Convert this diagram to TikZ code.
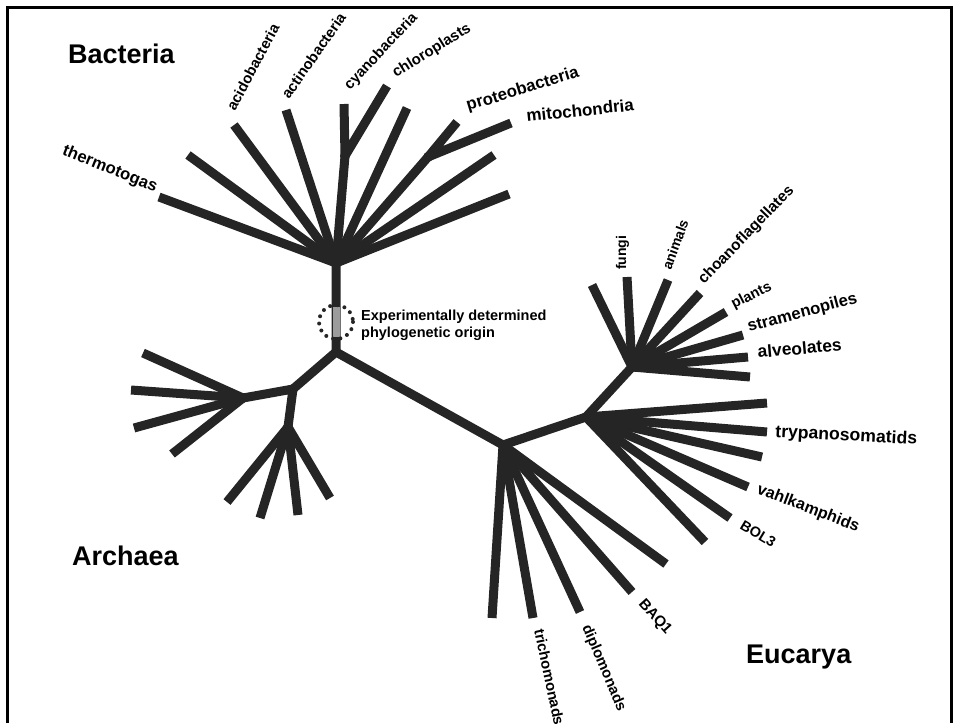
\documentclass[tikz,border=0pt]{standalone}
\usepackage{fontspec}
\setmainfont{Liberation Sans}
\usepackage{tikz}

\definecolor{treegray}{HTML}{252525}
\definecolor{origingray}{HTML}{9C9C9C}

\begin{document}
\begin{tikzpicture}[x=1pt, y=-1pt,
	branch/.style = {draw=treegray, line width=9pt, line cap=butt},
	hubdot/.style = {fill=treegray},
	leaf/.style = {font=\fontsize{#1}{#1}\selectfont\bfseries, inner sep=0pt, anchor=base west},
	leaf/.default = 17,
	domainlabel/.style = {font=\fontsize{27}{27}\selectfont\bfseries, inner sep=0pt, anchor=base west}]
	\useasboundingbox (0,0) rectangle (955,723);
	% outline
	\draw[line width=3pt] (7,723) -- (7,7) -- (951,7) -- (951,723);

	% hubs
	\coordinate (root) at (336,352);
	\coordinate (bac) at (336,263);
	\coordinate (arc) at (293,389);
	\coordinate (arcL) at (243,398);
	\coordinate (arcD) at (288,427);
	\coordinate (euk) at (503,445);
	\coordinate (excav) at (586,417);
	\coordinate (opis) at (632,367);
	\coordinate (cyanoFork) at (345,156);
	\coordinate (proteoFork) at (428,157);

	% bacteria tips
	\coordinate (thermo) at (159,197);
	\coordinate (bacA) at (188,155);
	\coordinate (acido) at (234,125);
	\coordinate (actino) at (286,110);
	\coordinate (cyano) at (344,104);
	\coordinate (chloro) at (387,86);
	\coordinate (bacB) at (407,108);
	\coordinate (proteo) at (457,122);
	\coordinate (mito) at (511,123);
	\coordinate (bacC) at (494,155);
	\coordinate (bacD) at (509,194);

	% archaea tips
	\coordinate (arc1) at (143,353);
	\coordinate (arc2) at (131,390);
	\coordinate (arc3) at (134,428);
	\coordinate (arc4) at (172,454);
	\coordinate (arc5) at (227,502);
	\coordinate (arc6) at (260,518);
	\coordinate (arc7) at (298,515);
	\coordinate (arc8) at (330,498);

	% eucarya tips
	\coordinate (eukA) at (492,618);
	\coordinate (trich) at (533,618);
	\coordinate (diplo) at (580,612);
	\coordinate (baq) at (632,592);
	\coordinate (eukB) at (666,564);
	\coordinate (exA) at (767,403);
	\coordinate (trypano) at (767,432);
	\coordinate (exB) at (762,457);
	\coordinate (vahl) at (748,487);
	\coordinate (bol) at (730,518);
	\coordinate (exC) at (705,542);
	\coordinate (opA) at (592,285);
	\coordinate (fungi) at (627,277);
	\coordinate (animals) at (668,280);
	\coordinate (choano) at (700,293);
	\coordinate (plants) at (726,312);
	\coordinate (strameno) at (743,335);
	\coordinate (alveo) at (748,357);
	\coordinate (opB) at (750,377);

	% branches
	\draw[branch] (bac) -- (root) -- (arc) (root) -- (euk) -- (excav) -- (opis);
	\draw[branch] (arc) -- (arcL) (arc) -- (arcD);
	\draw[branch] (bac) -- (cyanoFork) -- (cyano) (cyanoFork) -- (chloro);
	\draw[branch] (bac) -- (proteoFork) -- (proteo) (proteoFork) -- (mito);
	\foreach \t in {thermo,bacA,acido,actino,bacB,bacC,bacD}
		\draw[branch] (bac) -- (\t);
	\foreach \t in {arc1,arc2,arc3,arc4}
		\draw[branch] (arcL) -- (\t);
	\foreach \t in {arc5,arc6,arc7,arc8}
		\draw[branch] (arcD) -- (\t);
	\foreach \t in {eukA,trich,diplo,baq,eukB}
		\draw[branch] (euk) -- (\t);
	\foreach \t in {exA,trypano,exB,vahl,bol,exC}
		\draw[branch] (excav) -- (\t);
	\foreach \t in {opA,fungi,animals,choano,plants,strameno,alveo,opB}
		\draw[branch] (opis) -- (\t);
	\foreach \h in {bac,root,arc,arcL,arcD,euk,excav,opis,cyanoFork,proteoFork}
		\fill[hubdot] (\h) circle (5);

	% origin
	\coordinate (originTop) at (336,307);
	\coordinate (originBot) at (336,337);
	\coordinate (origin) at (336,322);
	\draw[draw=origingray, line width=7pt] (originTop) -- (originBot);
	\draw[draw=treegray, line width=4pt, line cap=round, dash pattern=on 0pt off 7.4pt] (origin) circle (17);
	\node[font=\fontsize{14.5}{17}\selectfont\bfseries, align=left, inner sep=0pt, anchor=west]
		(originText) at (361,325) {Experimentally determined\\phylogenetic origin};

	% domains
	\node[domainlabel] (bacteria) at (68,63) {Bacteria};
	\node[domainlabel] (archaea) at (72,565) {Archaea};
	\node[domainlabel] (eucarya) at (746,663) {Eucarya};

	% labels
	\node[leaf=16.6, anchor=base east, rotate=-22] (thermoLabel) at (155,192) {thermotogas};
	\node[leaf=14.8, rotate=62] (acidoLabel) at (235,112) {acidobacteria};
	\node[leaf=14.8, rotate=55] (actinoLabel) at (289,100) {actinobacteria};
	\node[leaf=14.8, rotate=47] (cyanoLabel) at (350,91) {cyanobacteria};
	\node[leaf=15, rotate=32] (chloroLabel) at (396,78) {chloroplasts};
	\node[leaf=16.8, rotate=17] (proteoLabel) at (468,111) {proteobacteria};
	\node[leaf, rotate=6] (mitoLabel) at (527,122) {mitochondria};
	\node[leaf=14, rotate=90] (fungiLabel) at (626,270) {fungi};
	\node[leaf=14, rotate=70] (animalsLabel) at (671,271) {animals};
	\node[leaf=15.4, rotate=46] (choanoLabel) at (704,285) {choanoflagellates};
	\node[leaf=14.6, rotate=27] (plantsLabel) at (734,309) {plants};
	\node[leaf=16.6, rotate=15] (stramenoLabel) at (749,332) {stramenopiles};
	\node[leaf=17.4, rotate=5] (alveoLabel) at (758,358) {alveolates};
	\node[leaf=17.6, rotate=-3] (trypanoLabel) at (775,437) {trypanosomatids};
	\node[leaf=16.2, rotate=-21] (vahlLabel) at (756,493) {vahlkamphids};
	\node[leaf=14.4, rotate=-31] (bolLabel) at (739,528) {BOL3};
	\node[leaf=15, rotate=-48] (baqLabel) at (638,604) {BAQ1};
	\node[leaf=14.8, rotate=-67] (diploLabel) at (582,627) {diplomonads};
	\node[leaf=14.8, rotate=-78] (trichLabel) at (534,630) {trichomonads};
\end{tikzpicture}
\end{document}
